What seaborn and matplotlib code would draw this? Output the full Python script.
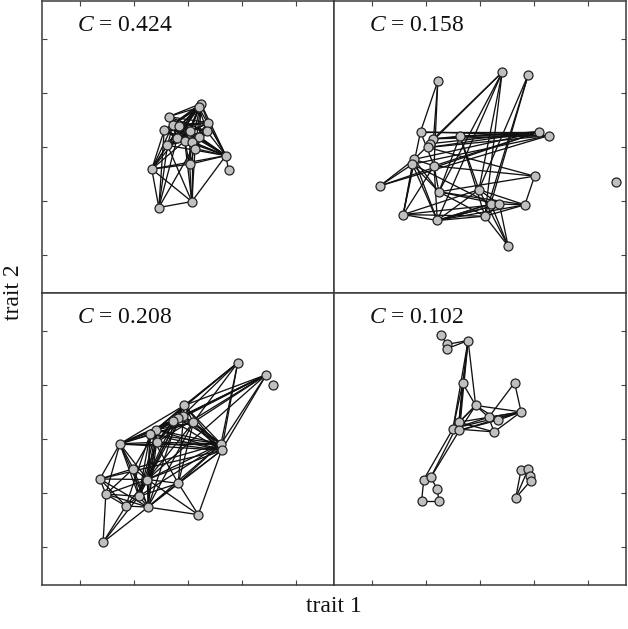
import numpy as np
import pandas as pd
import seaborn as sns
import matplotlib.pyplot as plt
from matplotlib.collections import LineCollection

# node positions (trait 1, trait 2) and links, one network per panel
labels = ["0.424", "0.158", "0.208", "0.102"]

p1_x = [3.24, 3.20, 2.64, 3.37, 2.72, 2.56, 2.84, 3.04, 3.35, 2.80, 3.21,
        2.94, 3.07, 2.62, 3.13, 3.70, 3.75, 2.33, 3.03, 2.46, 3.07]
p1_y = [3.80, 3.73, 3.56, 3.45, 3.41, 3.31, 3.38, 3.29, 3.29, 3.16, 3.19,
        3.11, 3.09, 3.03, 2.97, 2.84, 2.57, 2.59, 2.68, 1.88, 1.99]
p1_links = {0: [2, 3, 4, 5, 6, 7, 9, 10, 11, 12, 13, 14, 15],
            1: [2, 4, 6, 8, 9, 11, 13, 15, 5, 7],
            2: [3, 4, 6, 7, 9, 10, 12, 14, 15, 8],
            3: [4, 5, 7, 9, 10, 12, 13, 14, 15, 6],
            4: [6, 7, 8, 11, 13, 14, 17, 15],
            5: [7, 9, 11, 12, 14, 15, 17, 19],
            6: [8, 10, 12, 13, 15, 17],
            7: [9, 11, 13, 14, 18, 15],
            8: [9, 10, 12, 14, 15],
            9: [11, 13, 14, 15, 17, 19],
            10: [12, 13, 15, 19],
            11: [13, 14, 17, 18, 20],
            12: [14, 15, 18, 20],
            13: [15, 17, 19, 20],
            14: [15, 18, 20],
            15: [16, 17, 18, 20],
            17: [18, 19, 20],
            18: [20],
            19: [20]}

p2_x = [2.22, 3.41, 3.89, 1.90, 2.63, 4.10, 4.27, 2.14, 2.08, 2.04, 1.78, 1.75,
        2.15, 1.15, 4.01, 2.24, 2.98, 3.20, 3.36, 3.83, 1.58, 2.21, 3.09, 3.52, 5.51]
p2_y = [4.22, 4.38, 4.33, 3.28, 3.20, 3.28, 3.21, 3.15, 3.06, 2.99, 2.77, 2.68,
        2.65, 2.28, 2.46, 2.17, 2.21, 1.95, 1.94, 1.93, 1.75, 1.64, 1.72, 1.17, 2.35]
p2_links = {0: [3, 7, 12],
            1: [7, 10, 15, 16, 21, 22],
            2: [16, 17, 22],
            3: [5, 6, 12, 20],
            4: [5, 6, 7, 15, 22],
            5: [7, 8, 9, 10, 12, 13],
            6: [7, 9, 11, 13],
            10: [12, 13, 15, 20, 21],
            11: [13, 15, 17, 20, 21],
            12: [15, 20, 21],
            14: [9, 12, 15, 19],
            15: [18, 19, 22],
            16: [4, 18, 19, 21, 23],
            17: [19, 21, 23],
            18: [20, 21, 22, 23],
            19: [21, 22],
            20: [21, 22, 16],
            21: [17, 18, 22],
            22: [23]}

p3_x = [3.92, 4.45, 4.57, 2.93, 2.90, 2.81, 2.73, 3.10, 2.41, 2.30, 2.42, 1.74,
        3.61, 3.62, 1.99, 2.25, 1.37, 2.82, 1.48, 2.09, 1.85, 2.26, 3.19, 1.43]
p3_y = [4.41, 4.19, 3.99, 3.62, 3.43, 3.38, 3.33, 3.31, 3.17, 3.09, 2.94, 2.91,
        2.91, 2.79, 2.45, 2.25, 2.26, 2.18, 1.98, 1.94, 1.76, 1.74, 1.60, 1.09]
p3_links = {0: [3, 4, 7, 8, 9, 12, 13],
            1: [3, 4, 5, 7, 8, 9, 10, 12, 13, 15],
            3: [4, 5, 6, 7, 8, 10, 11, 12, 13, 15, 17],
            4: [5, 7, 9, 10, 11, 12, 13, 19],
            5: [6, 8, 9, 11, 12, 15, 21],
            6: [7, 8, 10, 11, 13, 19],
            7: [8, 9, 11, 12, 13, 15, 17, 21],
            8: [9, 10, 11, 12, 13, 14, 15, 19, 21],
            9: [10, 11, 12, 13, 15, 17, 19, 20, 21],
            10: [11, 12, 13, 15, 19, 21],
            11: [12, 13, 14, 15, 16, 18, 19, 21],
            12: [13, 14, 15, 17, 19, 21],
            13: [15, 16, 17, 21, 22],
            14: [15, 16, 18, 19, 21],
            15: [16, 17, 18, 19, 20, 21, 22],
            16: [18, 20, 21],
            17: [19, 21, 22],
            18: [19, 20, 21, 23],
            19: [20, 21, 23],
            20: [21, 23],
            21: [22, 23]}

p4_x = [2.27, 2.39, 2.39, 2.78, 2.68, 3.64, 2.92, 3.76, 3.16, 3.34, 2.61, 2.50,
        2.62, 3.26, 1.96, 2.09, 2.21, 1.92, 2.24, 3.76, 3.89, 3.92, 3.94, 3.66]
p4_y = [4.93, 4.75, 4.67, 4.82, 4.03, 4.04, 3.62, 3.50, 3.40, 3.35, 3.31, 3.19,
        3.16, 3.13, 2.25, 2.29, 2.07, 1.85, 1.85, 2.43, 2.44, 2.31, 2.23, 1.91]
p4_links = {0: [1],
            1: [2, 3],
            2: [3],
            3: [4, 6, 10, 11, 12],
            4: [6, 10, 11, 12],
            5: [7, 8],
            6: [7, 8, 9, 10, 11, 12],
            7: [8, 9, 10, 11, 12, 13],
            8: [9, 11, 13],
            9: [12],
            10: [13, 15],
            11: [13, 14],
            12: [15],
            14: [15, 17],
            15: [16],
            16: [18],
            17: [18],
            19: [20, 23],
            20: [21, 23],
            21: [22],
            22: [23]}

panels = [(p1_x, p1_y, p1_links), (p2_x, p2_y, p2_links),
          (p3_x, p3_y, p3_links), (p4_x, p4_y, p4_links)]

sns.set_style("white")
plt.rcParams["font.family"] = ["Liberation Serif", "DejaVu Serif"]
plt.rcParams["mathtext.fontset"] = "custom"
plt.rcParams["mathtext.rm"] = "Liberation Serif"
plt.rcParams["mathtext.it"] = "Liberation Serif:italic"

fig, axes = plt.subplots(2, 2, figsize=(6.28, 6.29), dpi=100)
fig.subplots_adjust(left=0.0669, right=0.9968, bottom=0.070, top=0.9985,
                    wspace=0, hspace=0)

for k, ax in enumerate(axes.flat):
    xs, ys, links = panels[k]
    df = pd.DataFrame({"trait 1": xs, "trait 2": ys})
    segs = []
    for a, nbrs in links.items():
        for b in nbrs:
            segs.append([(xs[a], ys[a]), (xs[b], ys[b])])
    ax.add_collection(LineCollection(segs, colors="#111111", linewidths=0.95, zorder=1))
    sns.scatterplot(data=df, x="trait 1", y="trait 2", ax=ax, s=42,
                    color="#c0c0c0", edgecolor="#222222", linewidth=0.9, zorder=2)
    ax.set_xlim(0.3, 5.7)
    ax.set_ylim(0.3, 5.7)
    ax.set_xticks([1, 2, 3, 4, 5])
    ax.set_yticks([1, 2, 3, 4, 5])
    ax.set_xlabel("")
    ax.set_ylabel("")
    row, col = divmod(k, 2)
    ax.tick_params(direction="in", length=3.8, width=0.8, color="#444444",
                   labelbottom=False, labelleft=False,
                   bottom=(row == 1), top=(row == 0),
                   left=(col == 0), right=(col == 1))
    for sp in ax.spines.values():
        sp.set_color("#3a3a3a")
        sp.set_linewidth(1.1)
    ax.text(0.12, 0.915, r"$C$ = " + labels[k], transform=ax.transAxes,
            fontsize=17, va="center", ha="left", color="#111111")

fig.text(334 / 628, 1 - 607 / 629, "trait 1", fontsize=17, ha="center", va="center",
         color="#111111")
fig.text(14 / 628, 1 - 292 / 629, "trait 2", fontsize=17, ha="center", va="center",
         rotation=90, color="#111111")

fig.savefig("out.png", dpi=100)
